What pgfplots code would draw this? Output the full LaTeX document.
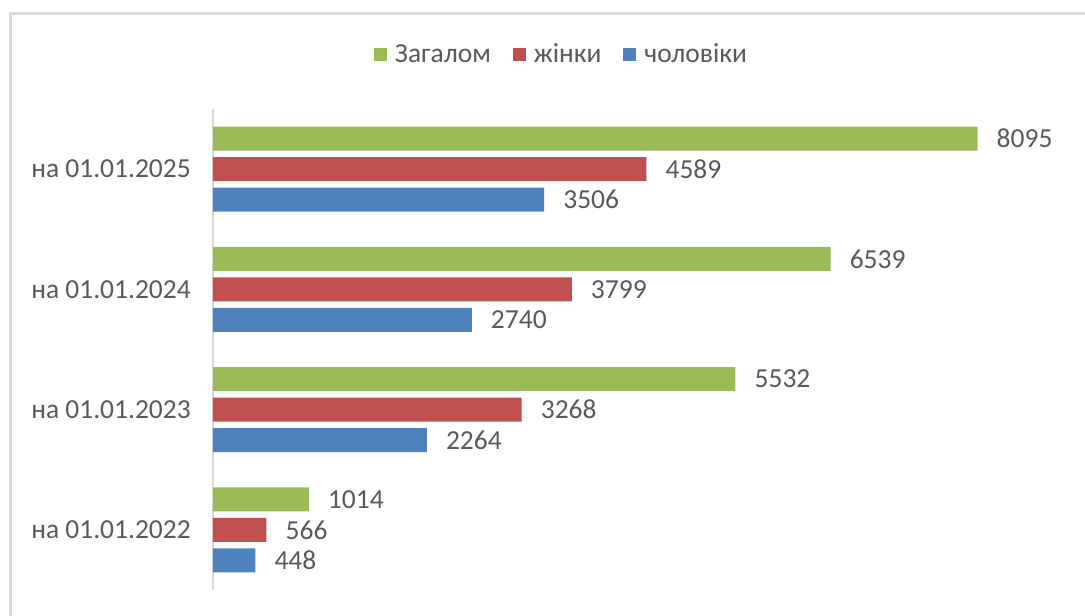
\documentclass[border=0pt]{standalone}
\usepackage{fontspec}
\setmainfont{Carlito}
\usepackage{pgfplots}
\pgfplotsset{compat=1.18}
\definecolor{cgreen}{HTML}{9BBB59}
\definecolor{cred}{HTML}{C0504D}
\definecolor{cblue}{HTML}{4F81BD}
\definecolor{ctext}{HTML}{595959}
\definecolor{cline}{HTML}{D9D9D9}
\begin{document}
\begin{tikzpicture}
\useasboundingbox (0,0) rectangle (1085pt,616pt);
\draw[cline, line width=2.5pt] (10.7pt,0) -- (10.7pt,602.5pt) -- (1085pt,602.5pt);
\begin{axis}[
 at={(213pt,26pt)}, anchor=south west,
 scale only axis, width=850pt, height=481pt,
 xmin=0, xmax=9000, ymin=-0.5, ymax=3.5,
 xbar, bar width=0.2,
 axis x line=none, xtick=\empty,
 axis y line*=left,
 y axis line style={cline, line width=2pt},
 ytick={0,1,2,3},
 yticklabels={на 01.01.2022, на 01.01.2023, на 01.01.2024, на 01.01.2025},
 major tick length=0pt,
 yticklabel style={font=\fontsize{27.5}{32}\selectfont, text=ctext, inner sep=0pt, xshift=-22pt},
 point meta=x,
 nodes near coords,
 nodes near coords style={font=\fontsize{27.5}{32}\selectfont, text=ctext, anchor=west, inner sep=0pt, xshift=19pt},
 /pgf/number format/.cd, 1000 sep={}, assume math mode=true, /pgfplots/.cd,
 legend columns=3,
 legend image code/.code={\fill[#1] (0pt,-6.5pt) rectangle (13pt,6.5pt); \path (19pt,0pt);},
 legend style={at={(0.41,1.114)}, anchor=center, draw=none, fill=none,
   font=\fontsize{27.5}{32}\selectfont, text=ctext,
   /tikz/every even column/.append style={column sep=20pt}},
 clip=false,
]
\addplot[fill=cgreen, draw=none, bar shift=0.254] coordinates {(1014,0) (5532,1) (6539,2) (8095,3)};
\addplot[fill=cred, draw=none, bar shift=0] coordinates {(566,0) (3268,1) (3799,2) (4589,3)};
\addplot[fill=cblue, draw=none, bar shift=-0.254] coordinates {(448,0) (2264,1) (2740,2) (3506,3)};
\legend{Загалом, жінки, чоловіки}
\end{axis}
\end{tikzpicture}
\end{document}
